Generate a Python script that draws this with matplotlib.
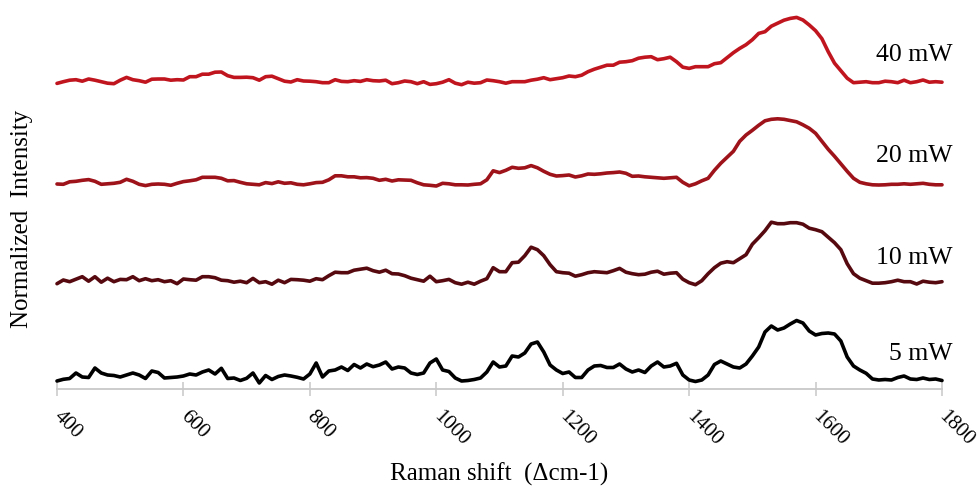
import numpy as np
import matplotlib
matplotlib.use("Agg")
import matplotlib.pyplot as plt
from matplotlib.transforms import ScaledTranslation

plt.rcParams['font.family'] = ['Liberation Serif', 'DejaVu Serif']

# Raman shift grid (cm-1)
shift = np.arange(400, 1801, 10)

# Normalized intensities (arbitrary units)
p40 = [-1.7, 0, 1.5, 2, 0.5, 2.7, 1.5, 0, -1.5, -2,
       1.5, 4.3, 2, 1, -0.5, 2.5, 2.7, 2.7, 1.5, 2,
       1.7, 5, 5, 7.5, 7.5, 9.5, 9.7, 6, 4.3, 4.3,
       4.5, 4, 1.5, 5, 5.5, 3, 0.5, -0.3, 2, 0.7,
       0.5, 0, -1, -1, 2, 0.3, 0, 1, 0.3, 2,
       1, 0.7, 1.5, -2, -1, 0.7, 0, -2, 0, -2.7,
       -2, -0.5, 2, -1.5, -3, -0.5, -1.5, -1, 1.7, 1,
       0, -1.5, 0, 0, 0, 1.5, 2.5, 4, 2, 3,
       4, 5.7, 5, 6.5, 10, 12.5, 14.5, 16.5, 16.5, 19.5,
       20, 21, 23.5, 24.5, 25, 22, 23, 24.5, 20, 14.5,
       13.3, 15, 15, 15, 18, 19, 24, 29, 33.3, 37,
       42, 48.3, 50, 55.5, 58.5, 61.5, 63.3, 64.3, 61.7, 56.7,
       51, 43, 30, 18.5, 11, 3.5, -1, -0.5, 0, -1,
       -1, 0.5, 0, -1, 1.5, -1, 0, 1.7, -0.5, 0, -0.5]

p20 = [-0.7, -1, 1.5, 2, 3, 3.7, 2, -1, -0.5, 0,
       1, 4, 2, -1, -2.3, -1, -0.7, -1, -2, 0,
       1.7, 2.5, 3.5, 6, 6, 6, 5, 2.5, 2.7, 1,
       -0.5, -1, -1.5, 0.7, -0.3, 1.5, 0, 0.5, -1, -1.5,
       -0.5, 0.7, 1, 3.5, 7.5, 7.5, 6.5, 6.5, 5.5, 5.7,
       5, 3, 4, 2.3, 3.5, 3.3, 3, 0.5, -1.5, -2,
       -2.7, 0, -0.5, -1.5, -1.5, -1.7, -1, -0.5, 3.5, 12.5,
       10.7, 13, 16, 15, 15.5, 17.7, 15.5, 12, 9, 7.3,
       7.7, 8.3, 6.3, 7.5, 9.3, 9, 9.5, 10.3, 10.7, 11.3,
       10, 7, 7.3, 6.5, 6, 5.5, 5, 5.5, 6, 1,
       -2.5, -0.5, 2.5, 5, 13, 20, 26, 32, 42, 48.3,
       53, 58, 62.5, 64, 64.5, 64, 62.7, 61.5, 58.5, 55,
       50, 42, 34, 27, 19.5, 12, 5, 1, -0.5, -1.5,
       -1.7, -1.5, -1, -1, -0.5, -1, -0.5, 0, -1, -1.5, -1.5]

p10 = [-2, 1.7, 0, 2.5, 5, 0.5, 5, -0.5, 3.5, 0,
       2.3, 2, 5, 1, 3, 1, 2, 0, 1, -2,
       2.7, 2, 1.5, 5, 5, 4, 1.5, 1, -0.5, 0.5,
       -1, 3.3, -1, 0, -2.5, 1.5, -1, 2.3, 2, 1.5,
       0.5, 3, 2, 6, 9.5, 9, 9, 11.5, 12.5, 13.5,
       11, 9.5, 11.5, 8, 7.7, 6, 3.5, 2, 0.5, 5.5,
       0, 1, 2.3, -1, -2.5, -0.5, -2.5, 0.5, 3, 14,
       10, 10, 19, 19.5, 26, 34.5, 32, 26, 17, 10,
       9, 8.5, 5.5, 7, 9, 10, 9.5, 9, 11, 13.3,
       9.5, 8, 7, 7.5, 9.5, 10.5, 7.5, 8.5, 9, 2.5,
       -1, -3, 1, 8, 14, 18.5, 20, 19, 23, 27,
       37.5, 44, 51, 59.5, 58, 58, 59, 59, 57.5, 53.5,
       52, 50, 44.5, 39, 32, 18, 8, 3.5, 1, -1.5,
       -1.5, -1, 0, 1.5, 0, 0, -2.3, 0.5, -0.5, -1, 0]

p5 = [-1, 0.7, 1.5, 7, 3, 2.5, 12, 7, 5, 4.5,
      3, 5, 7, 5, 1.5, 9, 7.5, 2, 2.5, 3,
      4, 6, 5, 8, 10, 6, 11.7, 1.5, 2, -0.5,
      1.7, 7, -3, 4.5, 0.5, 3.5, 5, 4, 2.7, 1,
      6, 17, 3, 9, 10, 13, 9.5, 15.5, 12, 16,
      13.3, 15, 18, 11, 13, 12, 7, 5.5, 7, 17,
      21, 10, 8.5, 2, -1, -0.5, 0.5, 2, 8, 18,
      13, 14, 24, 23, 27, 36, 38, 28, 15, 10,
      6.5, 8, 2.5, 2.5, 10, 14, 14.5, 12.5, 12.5, 16,
      11, 8, 10, 7.5, 14, 18, 13, 14, 16.7, 5,
      0, -1.5, 0, 5, 15.5, 19, 16, 13, 12, 16,
      24, 33, 48, 54, 50, 52, 56, 59.5, 57, 49,
      45, 46.5, 47, 46, 39, 23, 14, 10, 6.7, 1,
      0, 0.5, 0, 2.5, 4, 1, 0.5, 2, 0.5, 1, -0.5]

labels = ['40 mW', '20 mW', '10 mW', '5 mW']
series = [p40, p20, p10, p5]
offsets = [307.3, 205.7, 107.3, 9.0]
label_y = [334, 233, 131, 35]
colors = ['#C0151F', '#9E121A', '#560A10', '#000000']
xticks = [400, 600, 800, 1000, 1200, 1400, 1600, 1800]

fig = plt.figure(figsize=(9.8, 4.87), dpi=100)
ax = fig.add_axes([57/980, 1 - 389/487, 885/980, 389/487])

for vals, off, col, lab, ly in zip(series, offsets, colors, labels, label_y):
    ax.plot(shift, np.array(vals) + off, color=col, lw=2.6, solid_joinstyle='round',
            solid_capstyle='round', clip_on=False)
    ax.text(1817, ly, lab, ha='right', va='center', fontsize=18.5, clip_on=False)

ax.set_xlim(400, 1800)
ax.set_ylim(0, 389)
for s in ['top', 'right', 'left']:
    ax.spines[s].set_visible(False)
ax.spines['bottom'].set_color('#c8c8c8')
ax.spines['bottom'].set_linewidth(1.3)
ax.set_yticks([])
ax.set_xticks(xticks)
ax.set_xticklabels([str(t) for t in xticks], rotation=-45, ha='left', va='top',
                   fontsize=15, rotation_mode='default')
ax.tick_params(axis='x', direction='inout', length=10, width=1.1, color='#c8c8c8', pad=8)

fig.text(499 / 980, 1 - 481 / 487, 'Raman shift  (\u0394cm-1)', ha='center', va='baseline', fontsize=18)
fig.text(22 / 980, 1 - 219 / 487, 'Normalized  Intensity', ha='center', va='center',
         rotation=90, fontsize=18)

shift_tr = ScaledTranslation(-0.07, 0.0, fig.dpi_scale_trans)
for tk in ax.xaxis.get_major_ticks():
    tk.label1.set_transform(tk.label1.get_transform() + shift_tr)

fig.savefig('out.png', dpi=100)
